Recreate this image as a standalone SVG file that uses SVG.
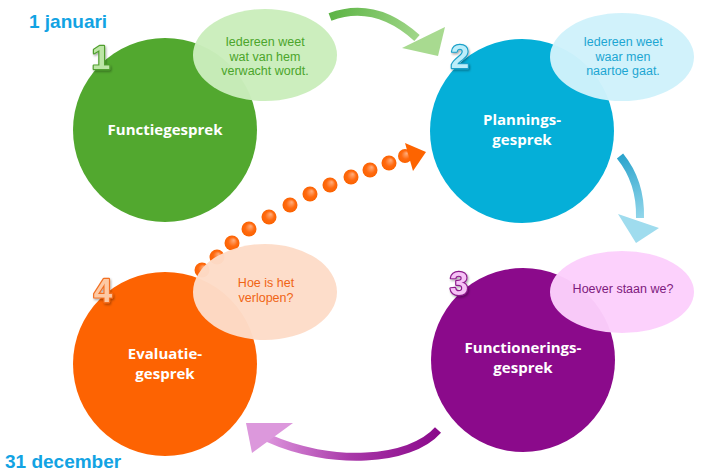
<svg xmlns="http://www.w3.org/2000/svg" width="704" height="476" viewBox="0 0 704 476">
<defs>
<linearGradient id="gGreen" gradientUnits="userSpaceOnUse" x1="330" y1="15" x2="440" y2="50"><stop offset="0" stop-color="#5db445"/><stop offset="1" stop-color="#b3e09c"/></linearGradient>
<linearGradient id="gBlue" gradientUnits="userSpaceOnUse" x1="620" y1="155" x2="650" y2="240"><stop offset="0" stop-color="#2aa3cc"/><stop offset="1" stop-color="#b6e8f5"/></linearGradient>
<linearGradient id="gPurple" gradientUnits="userSpaceOnUse" x1="437" y1="440" x2="248" y2="430"><stop offset="0" stop-color="#8b0a8b"/><stop offset="0.45" stop-color="#a838a8"/><stop offset="1" stop-color="#e8a8e8"/></linearGradient>
<radialGradient id="gDot" cx="0.5" cy="0.5" r="0.5" fx="0.62" fy="0.3"><stop offset="0" stop-color="#ffb080"/><stop offset="0.6" stop-color="#ff6a10"/><stop offset="1" stop-color="#fb6200"/></radialGradient>
<filter id="sh" x="-30%" y="-30%" width="160%" height="160%"><feDropShadow dx="1" dy="1.5" stdDeviation="1" flood-color="#000" flood-opacity="0.35"/></filter>
</defs>
<style>
.date{font-family:"Liberation Sans",Arial,sans-serif;font-weight:bold;font-size:19px;fill:#12a3e3}
.num{font-family:"Liberation Sans",Arial,sans-serif;font-weight:bold;font-size:33px;text-anchor:middle;stroke-width:2.4;paint-order:stroke;stroke-linejoin:round}
.lab{font-family:"Open Sans","Noto Sans",sans-serif;font-weight:bold;font-size:15px;fill:#ffffff;text-anchor:middle}
.bub{font-family:"Liberation Sans",Arial,sans-serif;font-size:12.5px;text-anchor:middle}
.dot{fill:url(#gDot)}
</style>
<g id="connectors">
<path d="M330,17 Q375,0 417,38" fill="none" stroke="url(#gGreen)" stroke-width="8"/>
<polygon points="402,48 445,27 438,56" fill="#a8da90"/>
<path d="M620,156 Q641,182 640,218" fill="none" stroke="url(#gBlue)" stroke-width="8"/>
<polygon points="618,214 659,228 636,243" fill="#9fdcee"/>
<path d="M438,430 C410,462 330,466 268,438" fill="none" stroke="url(#gPurple)" stroke-width="8"/>
<polygon points="246,423 293,423 252,453" fill="#dc98dc"/>
<g id="dots">
<circle class="dot" cx="188" cy="284" r="7.5"/>
<circle class="dot" cx="202" cy="270" r="7.5"/>
<circle class="dot" cx="217" cy="257" r="7.5"/>
<circle class="dot" cx="232" cy="243" r="7.5"/>
<circle class="dot" cx="249" cy="229" r="7.5"/>
<circle class="dot" cx="269" cy="217" r="7.5"/>
<circle class="dot" cx="290" cy="205" r="7.5"/>
<circle class="dot" cx="310" cy="194" r="7.5"/>
<circle class="dot" cx="330" cy="185" r="7.5"/>
<circle class="dot" cx="351" cy="177" r="7.5"/>
<circle class="dot" cx="370" cy="170" r="7.5"/>
<circle class="dot" cx="389" cy="163" r="7.5"/>
<circle class="dot" cx="405" cy="156" r="7"/>
<polygon points="405,143 426,152 413,171" fill="#fd6400"/>
</g>
</g>
<g id="node1">
<circle cx="165" cy="130" r="92" fill="#52a82f"/>
<text class="lab" x="165" y="135">Functiegesprek</text>
<ellipse cx="265" cy="55" rx="72" ry="46" fill="#caedbc" opacity="0.97"/>
<text class="bub" fill="#4ba52b"><tspan x="265" y="46">Iedereen weet</tspan><tspan x="265" y="60.5">wat van hem</tspan><tspan x="265" y="75">verwacht wordt.</tspan></text>
<text class="num" x="101" y="69" fill="#bde6a6" stroke="#4f9e2d" filter="url(#sh)">1</text>
</g>
<g id="node2">
<circle cx="522" cy="131" r="92" fill="#05afd8"/>
<text class="lab"><tspan x="522" y="125">Plannings-</tspan><tspan x="522" y="145">gesprek</tspan></text>
<ellipse cx="622" cy="57" rx="72" ry="44" fill="#d0f2fb" opacity="0.97"/>
<text class="bub" fill="#1ca6d2"><tspan x="623" y="46">Iedereen weet</tspan><tspan x="623" y="60.5">waar men</tspan><tspan x="623" y="75">naartoe gaat.</tspan></text>
<text class="num" x="460" y="68" fill="#bdeefa" stroke="#1aa0c9" filter="url(#sh)">2</text>
</g>
<g id="node3">
<circle cx="523" cy="360" r="92" fill="#8b0a8b"/>
<text class="lab"><tspan x="523" y="353">Functionerings-</tspan><tspan x="523" y="373">gesprek</tspan></text>
<ellipse cx="622" cy="292" rx="72" ry="41" fill="#fccffc" opacity="0.97"/>
<text class="bub" fill="#7e1a7e" x="623" y="293">Hoever staan we?</text>
<text class="num" x="459" y="295" fill="#f6c2f6" stroke="#8b1a8b" filter="url(#sh)">3</text>
</g>
<g id="node4">
<circle cx="165" cy="364" r="92" fill="#fd6302"/>
<text class="lab"><tspan x="165" y="359">Evaluatie-</tspan><tspan x="165" y="379">gesprek</tspan></text>
<ellipse cx="265" cy="292" rx="72" ry="48" fill="#fddcc8" opacity="0.97"/>
<text class="bub" fill="#f06414"><tspan x="266" y="287">Hoe is het</tspan><tspan x="266" y="301.5">verlopen?</tspan></text>
<text class="num" x="103" y="302" fill="#fdc9a4" stroke="#f26f22" filter="url(#sh)">4</text>
</g>
<text class="date" x="29" y="28">1 januari</text>
<text class="date" x="5" y="468">31 december</text>
</svg>
